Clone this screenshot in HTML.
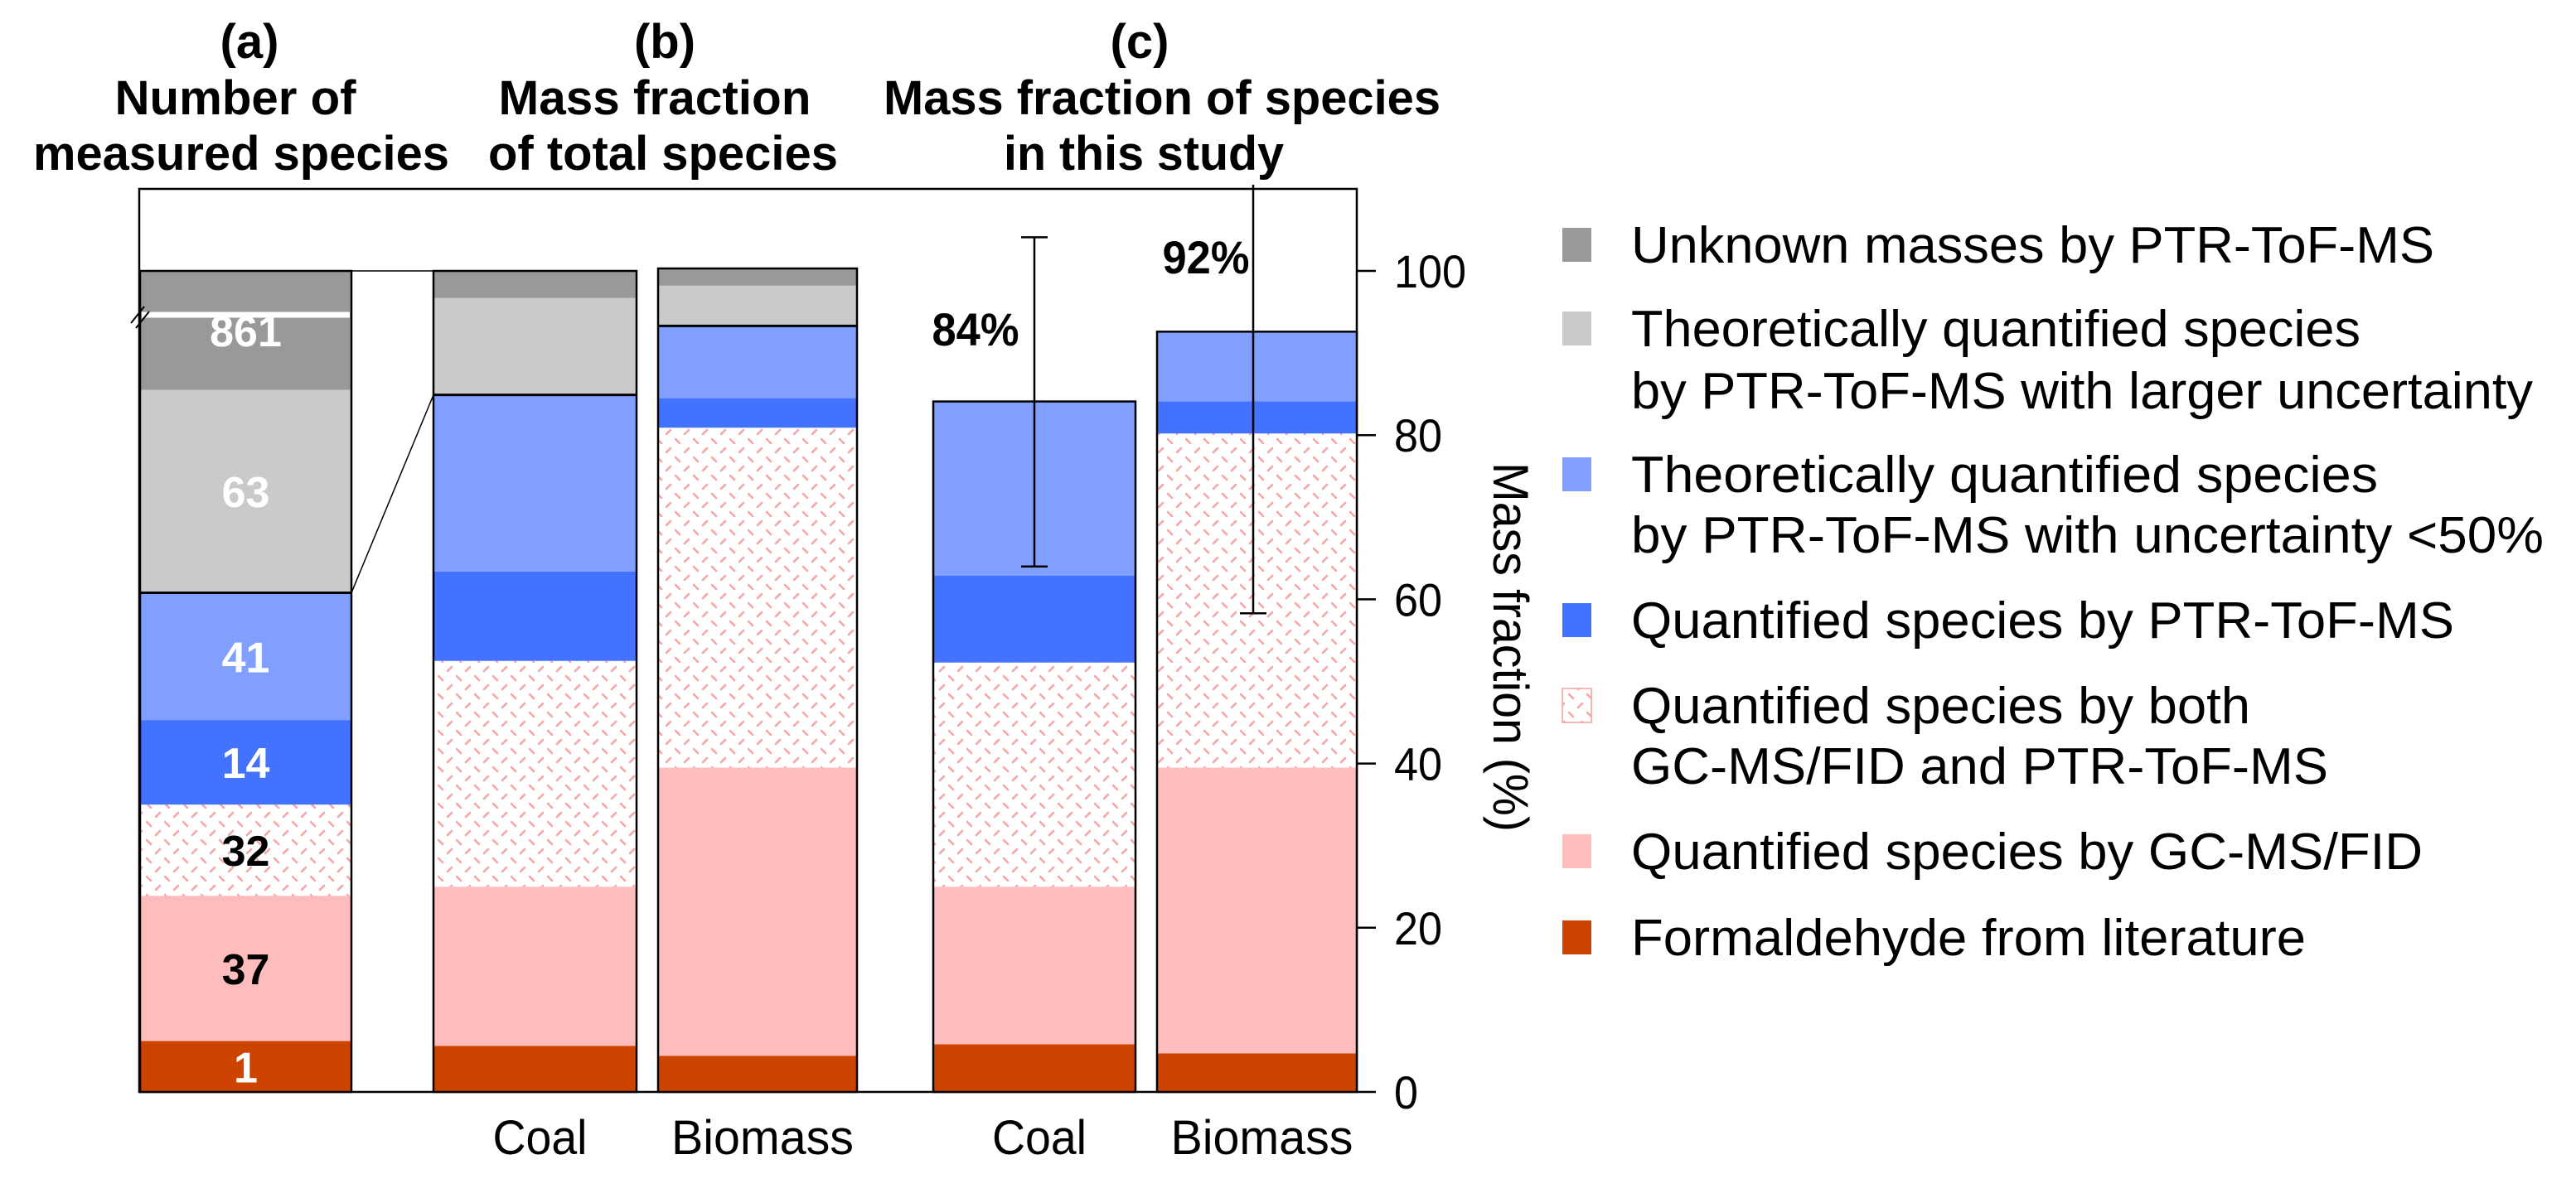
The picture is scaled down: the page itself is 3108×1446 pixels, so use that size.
<!DOCTYPE html>
<html><head><meta charset="utf-8"><style>
html,body{margin:0;padding:0;background:#fff;}
svg{display:block;font-family:"Liberation Sans",Arial,sans-serif;}
</style></head><body>
<svg id="chart" width="3108" height="1446" viewBox="0 0 3108 1446" xmlns="http://www.w3.org/2000/svg">
<defs>
<pattern id="hatch" width="22" height="22" patternUnits="userSpaceOnUse">
<rect width="22" height="22" fill="#fff"/>
<path d="M1 2 L6 7 M12 18 L17 13" stroke="#f7a5a5" stroke-width="2.6" stroke-linecap="round"/>
</pattern>
</defs>
<g id="titles" font-weight="bold" font-size="58" text-anchor="middle">
<text x="301" y="70">(a)</text>
<text x="284" y="138" textLength="291" lengthAdjust="spacingAndGlyphs">Number of</text>
<text x="291" y="205" textLength="502" lengthAdjust="spacingAndGlyphs">measured species</text>
<text x="802" y="70">(b)</text>
<text x="790" y="138" textLength="377" lengthAdjust="spacingAndGlyphs">Mass fraction</text>
<text x="800" y="205" textLength="422" lengthAdjust="spacingAndGlyphs">of total species</text>
<text x="1375" y="70">(c)</text>
<text x="1402" y="138" textLength="672" lengthAdjust="spacingAndGlyphs">Mass fraction of species</text>
<text x="1380" y="205" textLength="338" lengthAdjust="spacingAndGlyphs">in this study</text>
</g>
<rect x="168" y="228" width="1469" height="1090" fill="none" stroke="#000" stroke-width="2.5"/>
<g id="bars"></g>
<g id="axis"></g>
<g id="extras"></g>
<text transform="translate(1802,781) rotate(90)" text-anchor="middle" font-size="60" textLength="446" lengthAdjust="spacingAndGlyphs">Mass fraction (%)</text>
<g id="legend"></g>
</svg>
<script>
const NS="http://www.w3.org/2000/svg";
const categories=["Number","Coal (total)","Biomass (total)","Coal (study)","Biomass (study)"];
const xLabels=["","Coal","Biomass","Coal","Biomass"];
const seriesNames=["Formaldehyde from literature","Quantified species by GC-MS/FID","Quantified species by both GC-MS/FID and PTR-ToF-MS","Quantified species by PTR-ToF-MS","Theoretically quantified species by PTR-ToF-MS with uncertainty <50%","Theoretically quantified species by PTR-ToF-MS with larger uncertainty","Unknown masses by PTR-ToF-MS"];
const seriesColors=["#cc4400","#ffbcbc","url(#hatch)","#4372ff","#809fff","#cacaca","#999999"];
// cumulative tops (%) of each series per bar
const formaldehydeTop=[6.2,5.6,4.4,5.8,4.7];
const gcTop=[23.9,25.0,39.5,25.0,39.5];
const bothTop=[35.0,52.5,80.9,52.3,80.2];
const ptrTop=[45.3,63.4,84.5,62.9,84.1];
const theoTop=[60.8,84.9,93.3,84.1,92.6];
const largeTop=[85.5,96.7,98.2,84.1,92.6];
const unknownTop=[100,100,100.3,84.1,92.6];
const countLabels=["1","37","32","14","41","63","861"];
const countColors=["#fff","#000","#000","#fff","#fff","#fff","#fff"];
const errCenter=[84,92];
const errLow=[64,58.3];
const errHigh=[104.1,110.5];
const pctLabels=["84%","92%"];
const yTicks=[0,20,40,60,80,100];
// layout
const barLeft=[169,523,794,1126,1396];
const barRight=[424,768,1034,1370,1637];
const xLabelW=[0,114,220,114,220];
const errX=[1248,1512];
const pctX=[1177,1455], pctY=[417,330];
const y=v=>1318-9.91*v;
function el(tag,attrs,parent){const e=document.createElementNS(NS,tag);for(const k in attrs)e.setAttribute(k,attrs[k]);parent.appendChild(e);return e;}
const gb=document.getElementById('bars');
const tops=[formaldehydeTop,gcTop,bothTop,ptrTop,theoTop,largeTop,unknownTop];
categories.forEach((c,i)=>{
  let prev=0;
  tops.forEach((t,s)=>{
    const top=t[i]; if(top-prev<=0.01){prev=Math.max(prev,top);return;}
    const r=el('rect',{x:barLeft[i],y:y(top),width:barRight[i]-barLeft[i],height:y(prev)-y(top),fill:seriesColors[s]},gb);
    
    
    if(i===0){
      const tx=el('text',{x:(barLeft[0]+barRight[0])/2,y:(y(top)+y(prev))/2+19,'text-anchor':'middle','font-size':52,'font-weight':'bold',fill:countColors[s]},gb);
      tx.textContent=countLabels[s];
      
      
    }
    prev=top;
  });
  const o=el('rect',{x:barLeft[i],y:y(unknownTop[i]),width:barRight[i]-barLeft[i],height:y(0)-y(unknownTop[i]),fill:'none',stroke:'#000','stroke-width':2.5},gb);
  
  
  if(xLabels[i]){
    const xl=el('text',{x:(barLeft[i]+barRight[i])/2+6,y:1393,'text-anchor':'middle','font-size':58,textLength:xLabelW[i],lengthAdjust:'spacingAndGlyphs'},gb);
    xl.textContent=xLabels[i];
    
    
  }
});
const ex=document.getElementById('extras');
[[0,theoTop[0]],[1,theoTop[1]],[2,theoTop[2]]].forEach(([i,v])=>{
  const l=el('line',{x1:barLeft[i],x2:barRight[i],y1:y(v),y2:y(v),stroke:'#000','stroke-width':3},ex);
  
  
});
let l=el('line',{x1:barRight[0],y1:y(theoTop[0]),x2:barLeft[1],y2:y(theoTop[1]),stroke:'#000','stroke-width':1.5},ex);


l=el('line',{x1:barRight[0],y1:y(100),x2:barLeft[1],y2:y(100),stroke:'#000','stroke-width':1.5},ex);


l=el('line',{x1:171,x2:422,y1:380,y2:380,stroke:'#fff','stroke-width':7},ex);


l=el('path',{d:'M158 390 L174 370 M164 396 L180 376',stroke:'#000','stroke-width':2,fill:'none'},ex);


errCenter.forEach((c,k)=>{
  const cx=errX[k];
  const e=el('line',{x1:cx,x2:cx,y1:y(errHigh[k]),y2:y(errLow[k]),stroke:'#000','stroke-width':2.5},ex);
  
  
  const caps=k===0?[errHigh[k],errLow[k]]:[errLow[k]];
  caps.forEach(v=>{const cp=el('line',{x1:cx-16,x2:cx+16,y1:y(v),y2:y(v),stroke:'#000','stroke-width':2.5},ex);
    
    });
  const t=el('text',{x:pctX[k],y:pctY[k],'text-anchor':'middle','font-size':56,'font-weight':'bold',textLength:105,lengthAdjust:'spacingAndGlyphs'},ex);
  t.textContent=pctLabels[k];
  
  
});
const ga=document.getElementById('axis');
yTicks.forEach(v=>{
  const tk=el('line',{x1:1637,x2:1660,y1:y(v),y2:y(v),stroke:'#000','stroke-width':2.5},ga);
  
  
  const s=String(v);
  const t=el('text',{x:1682,y:y(v)+20,'font-size':56,textLength:s.length*29,lengthAdjust:'spacingAndGlyphs'},ga);
  t.textContent=s;
  
  
});
const gl=document.getElementById('legend');
const legendItems=[
 [6,["Unknown masses by PTR-ToF-MS"],[317],[969]],
 [5,["Theoretically quantified species","by PTR-ToF-MS with larger uncertainty"],[418,493],[880,1088]],
 [4,["Theoretically quantified  species","by PTR-ToF-MS with uncertainty <50%"],[594,667],[901,1101]],
 [3,["Quantified species by PTR-ToF-MS"],[770],[993]],
 [2,["Quantified species by both","GC-MS/FID and PTR-ToF-MS"],[873,946],[747,841]],
 [1,["Quantified species by GC-MS/FID"],[1049],[955]],
 [0,["Formaldehyde from literature"],[1153],[814]]
];
legendItems.forEach(([s,lines,ys,w])=>{
  const sq=el('rect',{x:1885,y:ys[0]-42,width:35,height:41,fill:seriesColors[s],stroke:s===2?'#f4a0a0':'none','stroke-width':1.5},gl);
  
  
  lines.forEach((ln,j)=>{
    const t=el('text',{x:1968,y:ys[j],'font-size':62,textLength:w[j],lengthAdjust:'spacingAndGlyphs'},gl);
    t.textContent=ln;
    
    
  });
});
</script>
</body></html>
